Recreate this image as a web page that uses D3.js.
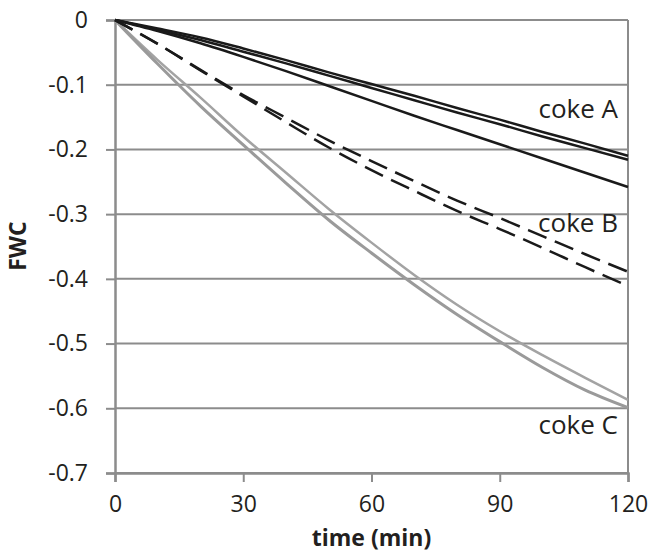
<!DOCTYPE html>
<html>
<head>
<meta charset="utf-8">
<script src="https://cdn.jsdelivr.net/npm/d3@7"></script>
<style>
  body { margin: 0; background: #fff; }
  text { font-family: "Open Sans", sans-serif; fill: #231f20; }
</style>
</head>
<body>
<div id="chart"></div>
<script>
// time axis (min)
const times = [0, 10, 20, 30, 40, 50, 60, 70, 80, 90, 100, 110, 120];

// coke A (three solid black runs)
const cokeA1 = [0, -0.013, -0.027, -0.044, -0.062, -0.081, -0.099, -0.117, -0.136, -0.154, -0.173, -0.191, -0.210];
const cokeA2 = [0, -0.015, -0.031, -0.049, -0.067, -0.086, -0.105, -0.124, -0.143, -0.161, -0.180, -0.198, -0.216];
const cokeA3 = [0, -0.017, -0.036, -0.057, -0.079, -0.102, -0.125, -0.148, -0.170, -0.192, -0.214, -0.236, -0.258];

// coke B (dashed)
const cokeB1 = [0, -0.037, -0.077, -0.116, -0.151, -0.186, -0.218, -0.249, -0.279, -0.306, -0.334, -0.362, -0.389];
const cokeB2 = [0, -0.037, -0.078, -0.118, -0.158, -0.197, -0.232, -0.264, -0.295, -0.323, -0.352, -0.382, -0.411];

// coke C (grey: measured + fitted)
const cokeCmeas = [0, -0.068, -0.133, -0.193, -0.252, -0.309, -0.360, -0.409, -0.455, -0.497, -0.537, -0.572, -0.599];
const cokeCfit = [0, -0.062, -0.120, -0.180, -0.236, -0.292, -0.344, -0.394, -0.440, -0.481, -0.518, -0.553, -0.587];

const xTicks = [0, 30, 60, 90, 120];
const yTicks = [0, -0.1, -0.2, -0.3, -0.4, -0.5, -0.6, -0.7];

const labels = [
    { text: "coke A", y: -0.151 },
    { text: "coke B", y: -0.327 },
    { text: "coke C", y: -0.640 }
];

const dimension = {
    width: 651,
    height: 554,
    margin: { top: 20, left: 115, bottom: 81, right: 23 }
};
dimension.boundedWidth = dimension.width - dimension.margin.left - dimension.margin.right;
dimension.boundedHeight = dimension.height - dimension.margin.top - dimension.margin.bottom;

const grid = "#8c8c8c";

const svg = d3.select("#chart").append("svg")
    .attr("width", dimension.width)
    .attr("height", dimension.height);

const bounded = svg.append("g")
    .attr("transform", `translate(${dimension.margin.left},${dimension.margin.top})`);

const xScaler = d3.scaleLinear().domain([0, 120]).range([0, dimension.boundedWidth]);
const yScaler = d3.scaleLinear().domain([-0.7, 0]).range([dimension.boundedHeight, 0]);

// horizontal gridlines
bounded.append("g")
    .selectAll("line")
    .data(yTicks)
    .join("line")
    .attr("x1", 0)
    .attr("x2", dimension.boundedWidth)
    .attr("y1", d => yScaler(d))
    .attr("y2", d => yScaler(d))
    .attr("stroke", grid)
    .attr("stroke-width", 2);

// right border
bounded.append("line")
    .attr("x1", dimension.boundedWidth).attr("x2", dimension.boundedWidth)
    .attr("y1", 0).attr("y2", dimension.boundedHeight)
    .attr("stroke", grid).attr("stroke-width", 2);

// y axis
const yAxis = bounded.append("g")
    .call(d3.axisLeft(yScaler).tickValues(yTicks).tickSize(9).tickPadding(18)
        .tickFormat(d => d === 0 ? "0" : d3.format(".1f")(d).replace("−", "-")));
yAxis.select(".domain").attr("stroke", grid).attr("stroke-width", 2.5);
yAxis.selectAll(".tick line").attr("stroke", grid).attr("stroke-width", 2);
yAxis.selectAll("text").attr("font-size", 23).attr("font-family", "Open Sans").attr("fill", "#231f20");

// x axis
const xAxis = bounded.append("g")
    .attr("transform", `translate(0,${dimension.boundedHeight})`)
    .call(d3.axisBottom(xScaler).tickValues(xTicks).tickSize(9).tickPadding(14));
xAxis.select(".domain").attr("stroke", grid).attr("stroke-width", 2.5);
xAxis.selectAll(".tick line").attr("stroke", grid).attr("stroke-width", 2);
xAxis.selectAll("text").attr("font-size", 23).attr("font-family", "Open Sans").attr("fill", "#231f20");

const lineGenerator = d3.line()
    .x((d, i) => xScaler(times[i]))
    .y(d => yScaler(d))
    .curve(d3.curveMonotoneX);

const series = [
    { values: cokeCfit, color: "#a3a3a3", width: 2.5, dash: null },
    { values: cokeCmeas, color: "#9a9a9a", width: 3, dash: null },
    { values: cokeB1, color: "#1a1a1a", width: 2.5, dash: "20,9" },
    { values: cokeB2, color: "#1a1a1a", width: 2.5, dash: "20,9" },
    { values: cokeA1, color: "#1a1a1a", width: 2.5, dash: null },
    { values: cokeA2, color: "#1a1a1a", width: 2.5, dash: null },
    { values: cokeA3, color: "#1a1a1a", width: 2.5, dash: null }
];

bounded.append("g")
    .selectAll("path")
    .data(series)
    .join("path")
    .attr("d", d => lineGenerator(d.values))
    .attr("fill", "none")
    .attr("stroke", d => d.color)
    .attr("stroke-width", d => d.width)
    .attr("stroke-dasharray", d => d.dash);

// series labels
bounded.append("g")
    .selectAll("text")
    .data(labels)
    .join("text")
    .attr("x", dimension.boundedWidth - 10)
    .attr("y", d => yScaler(d.y))
    .attr("text-anchor", "end")
    .attr("font-size", 26)
    .text(d => d.text);

// axis titles
svg.append("text")
    .attr("x", dimension.margin.left + dimension.boundedWidth / 2)
    .attr("y", 546)
    .attr("text-anchor", "middle")
    .attr("font-size", 23)
    .attr("font-weight", "bold")
    .text("time (min)");

svg.append("text")
    .attr("transform", "translate(26,246) rotate(-90)")
    .attr("text-anchor", "middle")
    .attr("font-size", 23)
    .attr("font-weight", "bold")
    .text("FWC");
</script>
</body>
</html>
